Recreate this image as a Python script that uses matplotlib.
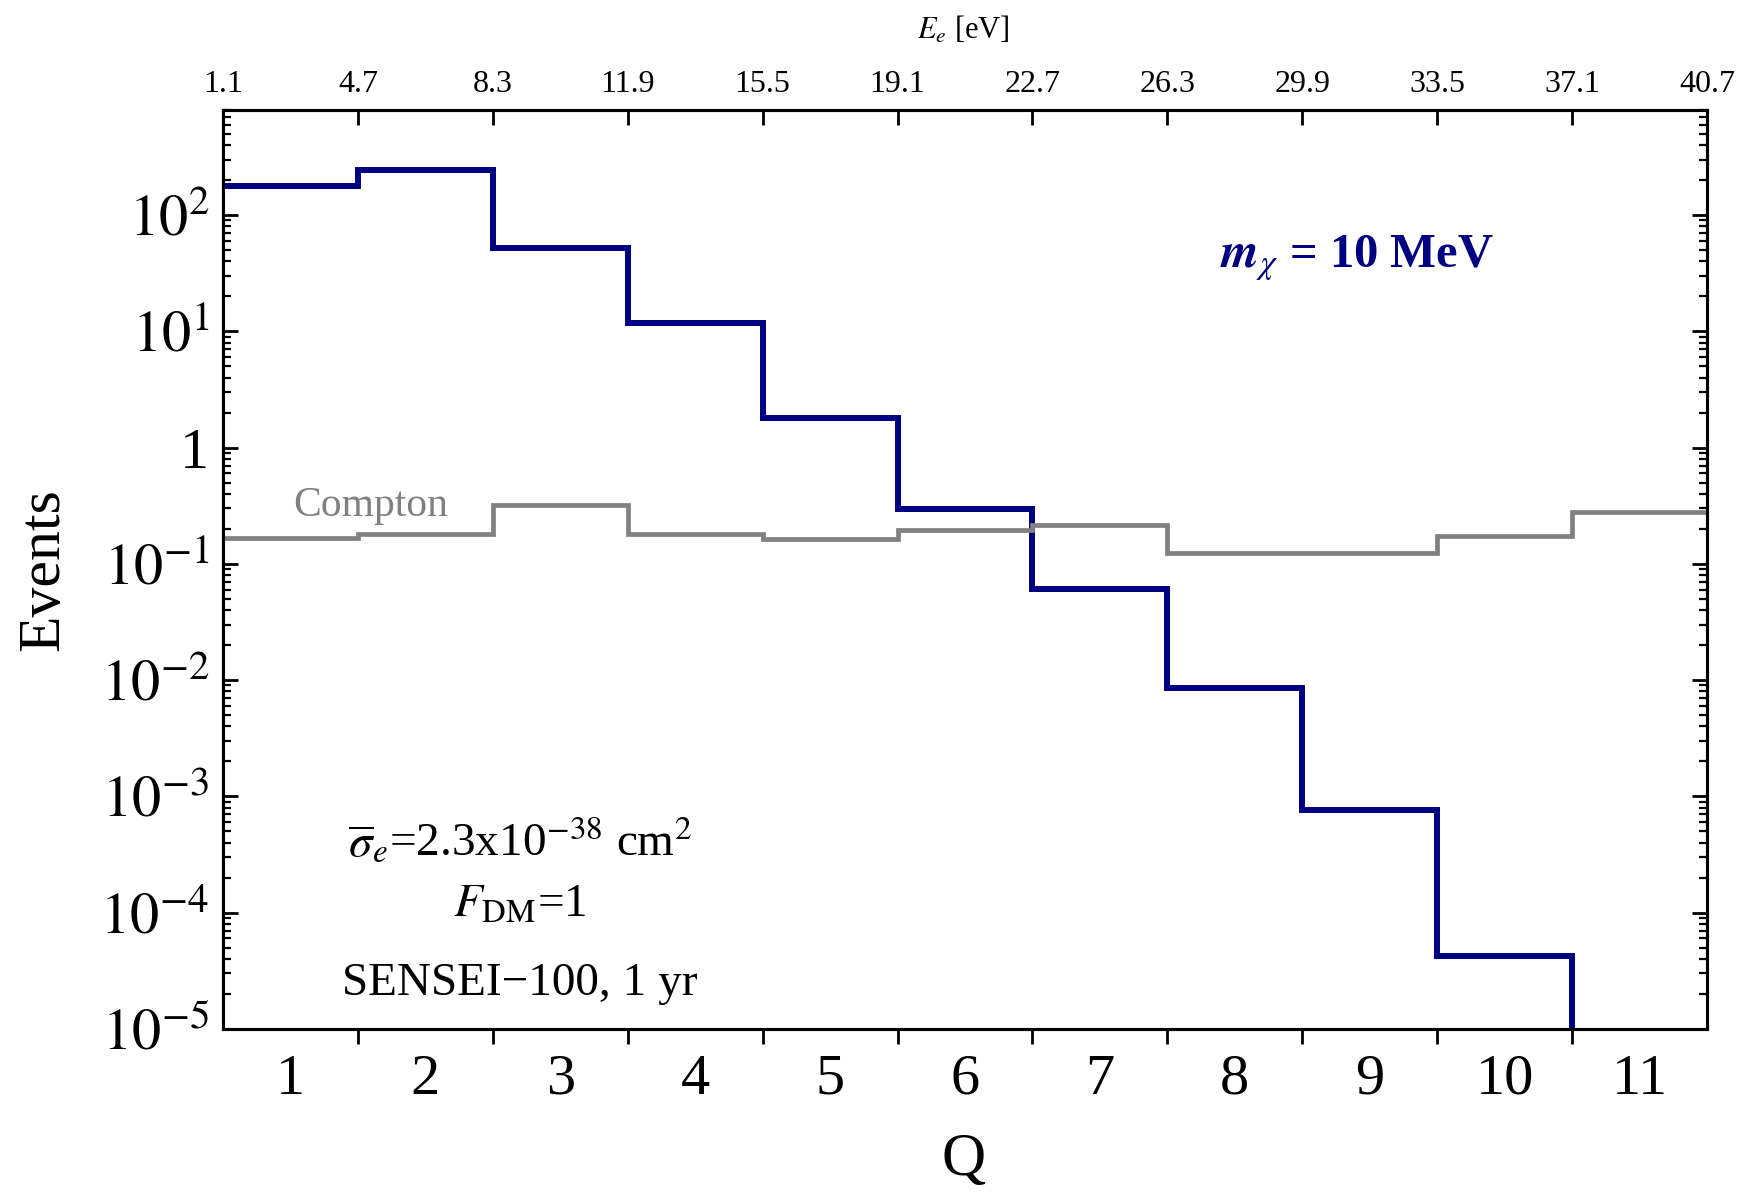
import numpy as np
import matplotlib
matplotlib.use("Agg")
import matplotlib.pyplot as plt
from matplotlib.ticker import FixedLocator, NullFormatter, LogLocator

plt.rcParams['font.family'] = ['Liberation Serif', 'DejaVu Serif']
plt.rcParams['mathtext.fontset'] = 'stix'

# Q bins (number of electrons) and their edges
q_bins = [1, 2, 3, 4, 5, 6, 7, 8, 9, 10, 11]
q_edges = [0.5, 1.5, 2.5, 3.5, 4.5, 5.5, 6.5, 7.5, 8.5, 9.5, 10.5, 11.5]

# Signal events for m_chi = 10 MeV (last bin is below the plotted range)
signal_events = [177, 245, 52, 11.7, 1.8, 0.297, 0.061, 0.0085, 7.6e-4, 4.2e-5, 1e-7]
# Compton background events
compton_events = [0.166, 0.18, 0.323, 0.18, 0.163, 0.196, 0.216, 0.125, 0.125, 0.174, 0.28]

# Electron energy labels on the top axis
energy_labels = ['1.1', '4.7', '8.3', '11.9', '15.5', '19.1', '22.7',
                 '26.3', '29.9', '33.5', '37.1', '40.7']

ytick_values = [1e-5, 1e-4, 1e-3, 1e-2, 1e-1, 1, 1e1, 1e2]
ytick_labels = [r'$10^{-5}$', r'$10^{-4}$', r'$10^{-3}$', r'$10^{-2}$',
                r'$10^{-1}$', '1', r'$10^{1}$', r'$10^{2}$']

navy = '#000080'
grey = '#808080'

fig = plt.figure(figsize=(17.41, 11.93), dpi=100)
ax = fig.add_axes([0.1281, 0.1375, 0.8524, 0.7703])

ax.stairs(signal_events, q_edges, color=navy, linewidth=4.3, baseline=None, zorder=3)
ax.stairs(compton_events, q_edges, color=grey, linewidth=3.4, baseline=None, zorder=4)

ax.set_xlim(q_edges[0], q_edges[-1])
ax.set_yscale('log')
ax.set_ylim(1e-5, 800)

for s in ax.spines.values():
    s.set_linewidth(2.2)

# y axis: decades labelled, minor ticks on both sides pointing inward
ax.yaxis.set_major_locator(FixedLocator(ytick_values))
ax.set_yticklabels(ytick_labels)
ax.yaxis.set_minor_locator(LogLocator(base=10, subs=np.arange(2, 10), numticks=30))
ax.yaxis.set_minor_formatter(NullFormatter())
ax.tick_params(axis='y', which='major', direction='in', left=True, right=True,
               length=11, width=2.0, labelsize=42, pad=10)
ax.tick_params(axis='y', which='minor', direction='in', left=True, right=True,
               length=6, width=1.6)

# bottom axis: ticks at bin edges, labels at bin centres
ax.xaxis.set_major_locator(FixedLocator(q_edges[1:-1]))
ax.xaxis.set_major_formatter(NullFormatter())
ax.xaxis.set_minor_locator(FixedLocator(q_bins))
ax.set_xticklabels([str(q) for q in q_bins], minor=True)
ax.tick_params(axis='x', which='major', direction='out', length=11, width=2.0,
               top=False, bottom=True)
ax.tick_params(axis='x', which='minor', length=0, labelsize=42, pad=18)

# top axis: electron energy at the bin edges
top = ax.twiny()
top.set_xlim(ax.get_xlim())
top.xaxis.set_major_locator(FixedLocator(q_edges))
top.set_xticklabels(energy_labels)
top.tick_params(axis='x', which='major', direction='in', length=11, width=2.0,
                labelsize=23, pad=8)
top.xaxis.set_minor_locator(FixedLocator([]))
for s in top.spines.values():
    s.set_linewidth(2.2)

top.set_xlabel(r'$E_e$ [eV]', fontsize=22)
top.xaxis.set_label_coords(0.499, 1.087)
top.xaxis.label.set_va('center')

ax.set_xlabel('Q', fontsize=44)
ax.xaxis.set_label_coords(0.499, -0.1425)
ax.xaxis.label.set_va('center')

ax.set_ylabel('Events', fontsize=43)
ax.yaxis.set_label_coords(-0.1206, 0.5)
ax.yaxis.label.set_va('center')

ax.text(0.0997, 0.558, 'Compton', transform=ax.transAxes, color=grey,
        fontsize=30, ha='center', va='baseline')
ax.text(0.764, 0.829, r'$\mathbfit{m}_{\chi}$ = 10 MeV', transform=ax.transAxes,
        color=navy, fontsize=35, fontweight='bold', ha='center', va='baseline')

ax.text(0.200, 0.189, r'$\overline{\sigma}_e$=2.3x10$^{-38}$ cm$^2$',
        transform=ax.transAxes, fontsize=34, ha='center', va='baseline')
ax.text(0.200, 0.122, r'$F_{\mathrm{DM}}$=1',
        transform=ax.transAxes, fontsize=34, ha='center', va='baseline')
ax.text(0.200, 0.037, 'SENSEI\u2212100, 1 yr',
        transform=ax.transAxes, fontsize=34, ha='center', va='baseline')

fig.savefig('out.png', dpi=100)
